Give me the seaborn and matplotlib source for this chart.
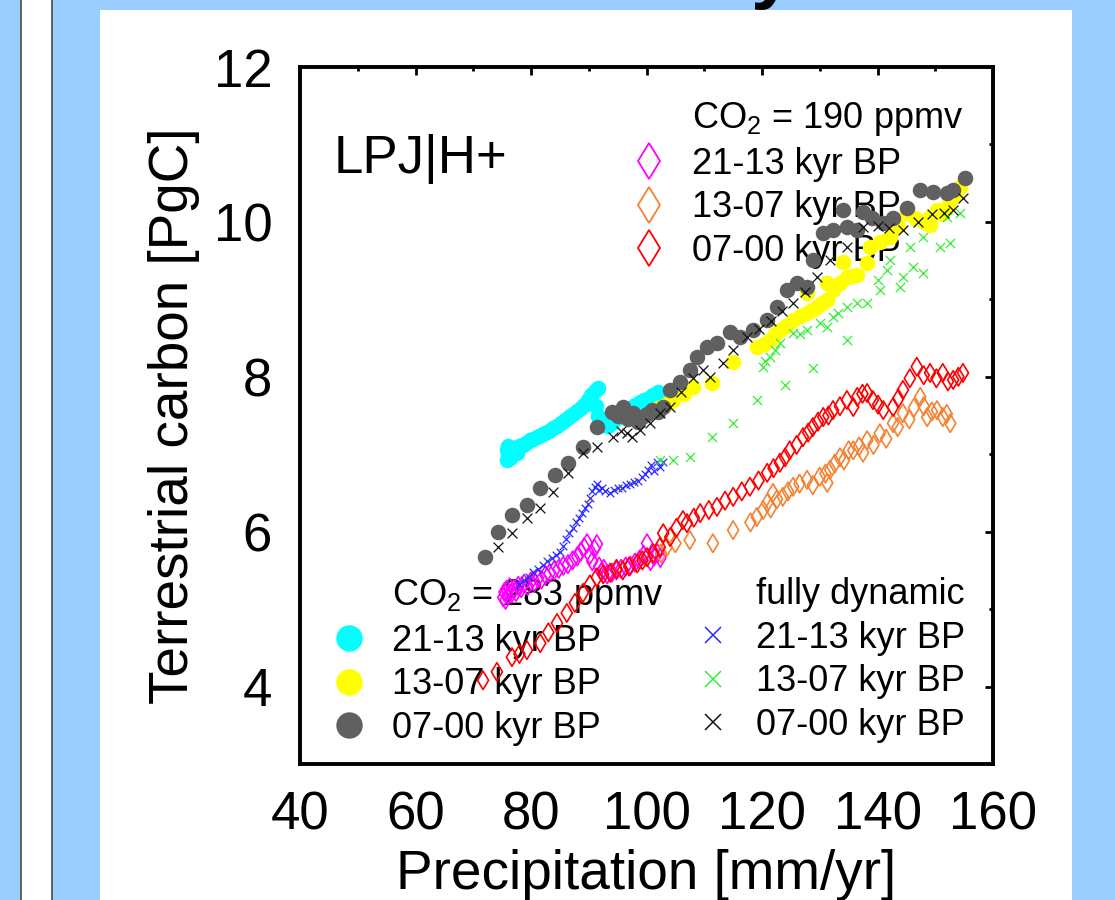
import numpy as np
import pandas as pd
import matplotlib
matplotlib.use("Agg")
import matplotlib.pyplot as plt
from matplotlib.lines import Line2D
from matplotlib.patches import Rectangle
from matplotlib.ticker import MultipleLocator
import seaborn as sns

# ---------------- data ----------------
# CO2 = 190 ppmv (open diamonds)
mag_x = [75.2, 75.4, 75.6, 75.8, 76.0, 76.3, 76.6, 77.0, 77.4, 77.8, 78.3, 78.8, 79.4, 80.0, 80.6,
         81.2, 81.8, 82.5, 83.2, 84.0, 84.8, 85.6, 86.4, 87.2, 88.0, 88.6, 89.2, 89.7, 90.2, 90.6,
         91.0, 91.4, 91.8, 92.2, 92.6, 93.2, 94.0, 94.8, 95.6, 96.4, 97.2, 98.0, 98.8, 99.5, 100.1,
         100.7, 101.3, 101.9, 102.4]
mag_y = [5.15, 5.22, 5.12, 5.25, 5.18, 5.28, 5.20, 5.26, 5.22, 5.30, 5.27, 5.33, 5.30, 5.36, 5.35,
         5.40, 5.38, 5.44, 5.46, 5.50, 5.52, 5.56, 5.58, 5.63, 5.68, 5.74, 5.80, 5.85, 5.70, 5.62,
         5.78, 5.84, 5.55, 5.48, 5.52, 5.45, 5.47, 5.50, 5.52, 5.55, 5.56, 5.60, 5.64, 5.70, 5.85,
         5.62, 5.68, 5.72, 5.66]

org_x = [102.5, 103.5, 105.0, 107.5, 111.5, 115.0, 118.0, 119.1, 120.2, 120.9, 121.5, 121.9, 122.6,
         123.6, 124.5, 125.4, 126.5, 127.8, 128.8, 130.0, 131.0, 131.3, 131.8, 132.6, 133.5, 134.2,
         135.0, 135.8, 136.8, 137.5, 138.2, 139.3, 140.4, 141.5, 142.7, 143.5, 144.4, 145.5, 146.3,
         147.4, 148.0, 148.6, 149.4, 150.3, 151.3, 152.0, 152.6]
org_y = [5.72, 5.80, 5.85, 5.89, 5.85, 6.02, 6.12, 6.19, 6.28, 6.37, 6.30, 6.50, 6.42,
         6.45, 6.52, 6.58, 6.62, 6.67, 6.60, 6.71, 6.75, 6.63, 6.80, 6.88, 6.96, 6.92,
         7.05, 7.05, 7.10, 7.02, 7.18, 7.12, 7.27, 7.20, 7.40, 7.35, 7.53, 7.45, 7.60,
         7.74, 7.62, 7.48, 7.55, 7.57, 7.48, 7.52, 7.40]

red_x = [71.7, 74.1, 76.7, 78.0, 79.3, 81.6, 83.0, 84.5, 86.2, 87.6, 89.0, 90.2, 91.4, 92.5, 93.7,
         94.8, 95.9, 97.0, 98.4, 99.3, 100.1, 101.2, 102.3, 102.9, 104.1, 105.2, 106.3, 107.0, 108.2,
         109.3, 110.8, 112.2, 113.6, 115.0, 116.5, 117.9, 119.4, 120.9, 122.0, 123.1, 124.0, 124.8,
         126.0, 127.1, 128.0, 128.8, 129.7, 130.6, 131.5, 132.3, 133.5, 134.7, 135.8, 136.5, 137.4,
         138.2, 139.2, 140.1, 141.0, 142.7, 143.6, 144.4, 145.6, 146.8, 148.0, 149.1, 150.2, 151.3,
         152.2, 153.1, 154.0, 154.8]
red_y = [4.08, 4.19, 4.38, 4.42, 4.47, 4.56, 4.70, 4.82, 4.95, 5.08, 5.21, 5.32, 5.41, 5.45, 5.47,
         5.52, 5.50, 5.55, 5.59, 5.63, 5.67, 5.72, 5.80, 5.98, 5.93, 6.05, 6.15, 6.11, 6.18,
         6.24, 6.28, 6.32, 6.40, 6.45, 6.52, 6.58, 6.66, 6.76, 6.82, 6.89, 6.96, 7.05,
         7.12, 7.22, 7.28, 7.35, 7.42, 7.48, 7.50, 7.57, 7.62, 7.70, 7.61, 7.74, 7.78,
         7.79, 7.70, 7.64, 7.57, 7.61, 7.72, 7.83, 7.98, 8.13, 8.02, 8.05, 7.98, 8.05,
         7.94, 7.96, 8.00, 8.05]

# CO2 = 283 ppmv (filled circles)
cya_x = [75.8, 75.9, 76.0, 76.1, 76.3, 76.6, 77.0, 77.5, 78.0, 78.6, 79.2, 79.8, 80.4, 81.0, 81.7,
         82.4, 83.1, 83.8, 84.5, 85.2, 85.9, 86.6, 87.3, 88.0, 88.6, 89.2, 89.8, 90.4, 91.0, 91.6,
         91.3, 91.6, 92.0, 92.6, 93.3, 94.0, 94.8, 95.6, 96.4, 97.2, 98.0, 98.8, 99.6, 100.4, 101.2,
         102.0]
cya_y = [6.92, 7.05, 6.98, 7.10, 6.95, 7.05, 7.08, 7.02, 7.10, 7.12, 7.15, 7.18, 7.20, 7.22, 7.25,
         7.28, 7.30, 7.34, 7.37, 7.40, 7.44, 7.48, 7.52, 7.56, 7.60, 7.64, 7.70, 7.76, 7.82, 7.86,
         7.62, 7.50, 7.42, 7.38, 7.36, 7.40, 7.45, 7.50, 7.55, 7.60, 7.64, 7.68, 7.70, 7.72, 7.76,
         7.80]

yel_x = [102.0, 103.5, 104.6, 106.5, 108.1, 111.3, 115.0, 119.1, 120.3, 121.4, 122.3, 123.1, 124.2,
         125.4, 126.6, 127.8, 128.6, 129.5, 130.4, 131.3, 132.3, 133.5, 134.7, 135.6, 136.5, 131.3,
         127.8, 134.0, 138.2, 138.7, 140.5, 142.2, 143.6, 145.1, 146.5, 148.0, 149.1, 150.3, 151.2,
         152.0, 152.6, 153.5, 154.3, 149.1]
yel_y = [7.60, 7.65, 7.70, 7.78, 7.87, 7.92, 8.19, 8.38, 8.42, 8.47, 8.55, 8.60, 8.66,
         8.73, 8.78, 8.82, 8.86, 8.90, 8.95, 8.99, 9.12, 9.21, 9.29, 9.30, 9.31, 9.21,
         9.08, 9.48, 9.47, 9.68, 9.74, 9.80, 9.95, 10.11, 10.05, 10.00, 10.06, 10.15, 10.10,
         10.19, 10.28, 10.35, 10.45, 9.96]

gry_x = [72.0, 74.3, 76.7, 79.3, 81.6, 84.2, 86.4, 89.0, 91.4, 94.0, 95.0, 95.9, 96.8, 97.7, 98.5,
         99.2, 100.1, 101.0, 102.0, 102.9, 104.1, 105.8, 107.5, 108.7, 110.5, 112.2, 114.5, 116.2,
         118.4, 120.9, 122.6, 124.3, 126.1, 127.8, 128.8, 130.6, 132.3, 134.0, 134.7, 136.5, 137.5,
         139.0, 141.0, 142.7, 145.1, 147.4, 149.6, 152.0, 153.1, 155.2]
gry_y = [5.67, 6.00, 6.21, 6.34, 6.56, 6.73, 6.89, 7.09, 7.35, 7.55, 7.50, 7.61, 7.45, 7.53, 7.42,
         7.48, 7.52, 7.57, 7.55, 7.61, 7.83, 7.93, 8.09, 8.26, 8.38, 8.44, 8.58, 8.51,
         8.60, 8.73, 8.90, 9.12, 9.21, 9.16, 9.51, 9.86, 9.90, 10.15, 9.93, 9.90, 10.13,
         10.05, 9.99, 10.05, 10.18, 10.41, 10.39, 10.37, 10.41, 10.57]

# fully dynamic (crosses)
blu_x = [78.0, 78.8, 79.6, 80.4, 81.2, 82.0, 82.8, 83.6, 84.4, 85.0, 85.5, 86.0, 86.6, 87.2, 87.8,
         88.3, 88.8, 89.3, 89.8, 90.2, 90.6, 91.0, 91.4, 91.8, 92.3, 92.9, 93.6, 94.3, 95.0, 95.7,
         96.4, 97.1, 97.8, 98.5, 99.2, 99.8, 100.3, 100.8, 101.3, 101.8, 102.3, 102.8]
blu_y = [5.32, 5.38, 5.42, 5.48, 5.52, 5.57, 5.62, 5.66, 5.70, 5.74, 5.82, 5.90, 5.98, 6.05, 6.12,
         6.18, 6.24, 6.30, 6.36, 6.44, 6.52, 6.58, 6.62, 6.54, 6.56, 6.52, 6.50, 6.54, 6.56, 6.57,
         6.60, 6.62, 6.64, 6.66, 6.70, 6.74, 6.80, 6.86, 6.78, 6.90, 6.84, 6.90]

grn_x = [102.3, 104.6, 107.5, 111.3, 115.0, 119.1, 120.2, 120.6, 121.4, 122.2, 123.1, 124.0, 125.4,
         126.5, 127.8, 128.8, 130.0, 131.3, 132.3, 133.2, 134.7, 134.7, 136.5, 138.2, 140.0, 140.4,
         141.6, 142.2, 143.9, 144.4, 145.6, 146.1, 147.9, 147.9, 150.8, 152.0, 152.6, 154.3]
grn_y = [6.93, 6.93, 6.96, 7.22, 7.40, 7.70, 8.13, 8.20, 8.26, 8.35, 8.44, 7.89, 8.56,
         8.55, 8.60, 8.11, 8.69, 8.64, 8.77, 8.82, 8.90, 8.47, 8.95, 8.95, 9.25, 9.12,
         9.38, 9.51, 9.16, 9.29, 9.68, 9.42, 9.34, 9.80, 9.68, 10.06, 9.73, 10.11]

blk_x = [74.3, 76.7, 79.3, 81.6, 83.8, 86.4, 89.0, 91.4, 94.2, 95.5, 96.6, 97.5, 98.9, 100.6, 102.3,
         104.1, 106.0, 108.0, 109.8, 111.0, 113.2, 115.0, 117.4, 119.5, 121.5, 123.5, 125.4, 127.5,
         129.5, 131.8, 134.7, 137.5, 140.0, 142.0, 144.4, 147.0, 149.5, 151.5, 153.1, 154.8]
blk_y = [5.80, 5.98, 6.18, 6.31, 6.51, 6.76, 7.02, 7.09, 7.22, 7.30, 7.27, 7.22, 7.31, 7.40, 7.53,
         7.61, 7.80, 7.98, 8.09, 8.00, 8.18, 8.35, 8.51, 8.62, 8.72, 8.85, 8.95, 9.10,
         9.29, 9.51, 9.68, 9.93, 9.95, 9.92, 9.90, 10.00, 10.10, 10.12, 10.15, 10.31]

period_labels = ["21-13 kyr BP", "13-07 kyr BP", "07-00 kyr BP"]
x_ticks = [40, 60, 80, 100, 120, 140, 160]
y_ticks = [4, 6, 8, 10, 12]

# ---------------- styling ----------------
sns.set_style("white")
plt.rcParams['font.family'] = ['Liberation Sans', 'DejaVu Sans']
plt.rcParams['mathtext.default'] = 'regular'
for key in ['text.color', 'axes.labelcolor', 'xtick.color', 'ytick.color',
            'xtick.labelcolor', 'ytick.labelcolor']:
    plt.rcParams[key] = 'black'

W, H = 1115, 900
fig = plt.figure(figsize=(W / 100, H / 100), dpi=100, facecolor='#99ccff')
# white panel and the left strip (behind the axes)
fig.patches.append(Rectangle((100 / W, 0), 972 / W, 890 / H, transform=fig.transFigure,
                             facecolor='white', edgecolor='none', zorder=-2))
fig.patches.append(Rectangle((20.5 / W, -0.02), 31.5 / W, 1.04, transform=fig.transFigure,
                             facecolor='white', edgecolor='#4a4a4a', linewidth=1.2, zorder=-2))

ax = fig.add_axes([300 / W, 1 - 764 / H, 693 / W, 697 / H])
ax.set_zorder(2)
ax.set_facecolor('white')

C_MAG, C_ORG, C_RED = '#ff00ff', '#f58231', '#ff0000'
C_CYA, C_YEL, C_GRY = '#00ffff', '#ffff00', '#606060'
C_BLU, C_GRN, C_BLK = '#2a2aff', '#33ee33', '#111111'

def df(x, y):
    return pd.DataFrame({"precip": x, "carbon": y})

# filled circles (CO2 = 283)
for xs, ys, c in [(cya_x, cya_y, C_CYA), (yel_x, yel_y, C_YEL), (gry_x, gry_y, C_GRY)]:
    sns.scatterplot(data=df(xs, ys), x="precip", y="carbon", ax=ax, marker='o', s=125,
                    color=c, edgecolor=c, linewidth=0, zorder=3, legend=False)
# open diamonds (CO2 = 190)
for xs, ys, c in [(mag_x, mag_y, C_MAG), (org_x, org_y, C_ORG), (red_x, red_y, C_RED)]:
    sns.scatterplot(data=df(xs, ys), x="precip", y="carbon", ax=ax, marker='d', s=88,
                    facecolor='none', edgecolor=c, linewidth=1.2, zorder=4, legend=False)
# crosses (fully dynamic)
for xs, ys, c, s in [(blu_x, blu_y, C_BLU, 30), (grn_x, grn_y, C_GRN, 44), (blk_x, blk_y, C_BLK, 50)]:
    sns.scatterplot(data=df(xs, ys), x="precip", y="carbon", ax=ax, marker='x', s=s,
                    color=c, linewidth=0.9, zorder=5, legend=False)

ax.set_xlim(40, 160)
ax.set_ylim(3, 12)
ax.set_xticks(x_ticks)
ax.set_yticks(y_ticks)
ax.xaxis.set_minor_locator(MultipleLocator(10))
ax.yaxis.set_minor_locator(MultipleLocator(1))
ax.tick_params(which='both', direction='in', top=True, right=True, width=2, color='black',
               labelcolor='black')
ax.tick_params(which='major', length=6, labelsize=38)
ax.tick_params(axis='x', which='major', pad=19)
ax.tick_params(axis='y', which='major', pad=20)
ax.tick_params(which='minor', length=3)
for sp in ax.spines.values():
    sp.set_linewidth(2.8)
    sp.set_color('black')

ax.set_xlabel("Precipitation [mm/yr]", fontsize=39.5, labelpad=6, color='black')
ax.set_ylabel("Terrestrial carbon [PgC]", fontsize=39.5, labelpad=10, color='black')

ax.text(0.049, 0.868, "LPJ|H+", transform=ax.transAxes, fontsize=38, va='center', ha='left',
        color='black')

# ---------------- legends ----------------
blank = Line2D([], [], linestyle='none', marker='None')

def mk(marker, color, ms, filled, mew=1.2):
    if filled:
        return Line2D([], [], linestyle='none', marker=marker, ms=ms, mfc=color, mec=color, mew=0)
    if marker == 'x':
        return Line2D([], [], linestyle='none', marker=marker, ms=ms, color=color, mew=mew)
    return Line2D([], [], linestyle='none', marker=marker, ms=ms, mfc='none', mec=color, mew=mew)

leg_kw = dict(loc='upper left', frameon=False, fontsize=26, handlelength=1.0,
              handletextpad=0.7, labelspacing=0.235, borderpad=0, borderaxespad=0,
              labelcolor='black')

h190 = [blank, mk('d', C_MAG, 18.5, False, 1.3), mk('d', C_ORG, 18.5, False, 1.3),
        mk('d', C_RED, 18.5, False, 1.3)]
leg1 = ax.legend(handles=h190, labels=["CO$_2$ = 190 ppmv"] + period_labels,
                 bbox_to_anchor=(0.4776, 0.952), **leg_kw)
leg1.set_zorder(1)
ax.add_artist(leg1)

h283 = [blank, mk('o', C_CYA, 19, True), mk('o', C_YEL, 19, True), mk('o', C_GRY, 19, True)]
leg2 = ax.legend(handles=h283, labels=["CO$_2$ = 283 ppmv"] + period_labels,
                 bbox_to_anchor=(0.0447, 0.268), **leg_kw)
leg2.set_zorder(1)
ax.add_artist(leg2)

hdyn = [blank, mk('x', C_BLU, 11, False, 1.1), mk('x', C_GRN, 11, False, 1.1),
        mk('x', C_BLK, 11, False, 1.1)]
leg3 = ax.legend(handles=hdyn, labels=["fully dynamic"] + period_labels,
                 bbox_to_anchor=(0.570, 0.268), **leg_kw)
leg3.set_zorder(1)

# fragment of the cut-off slide title at the very top
fig.text(772 / W, 1 + 6 / H, "y", fontsize=56, fontweight='bold', ha='center', va='baseline',
         color='black')

fig.savefig("out.png", dpi=100, facecolor=fig.get_facecolor())
